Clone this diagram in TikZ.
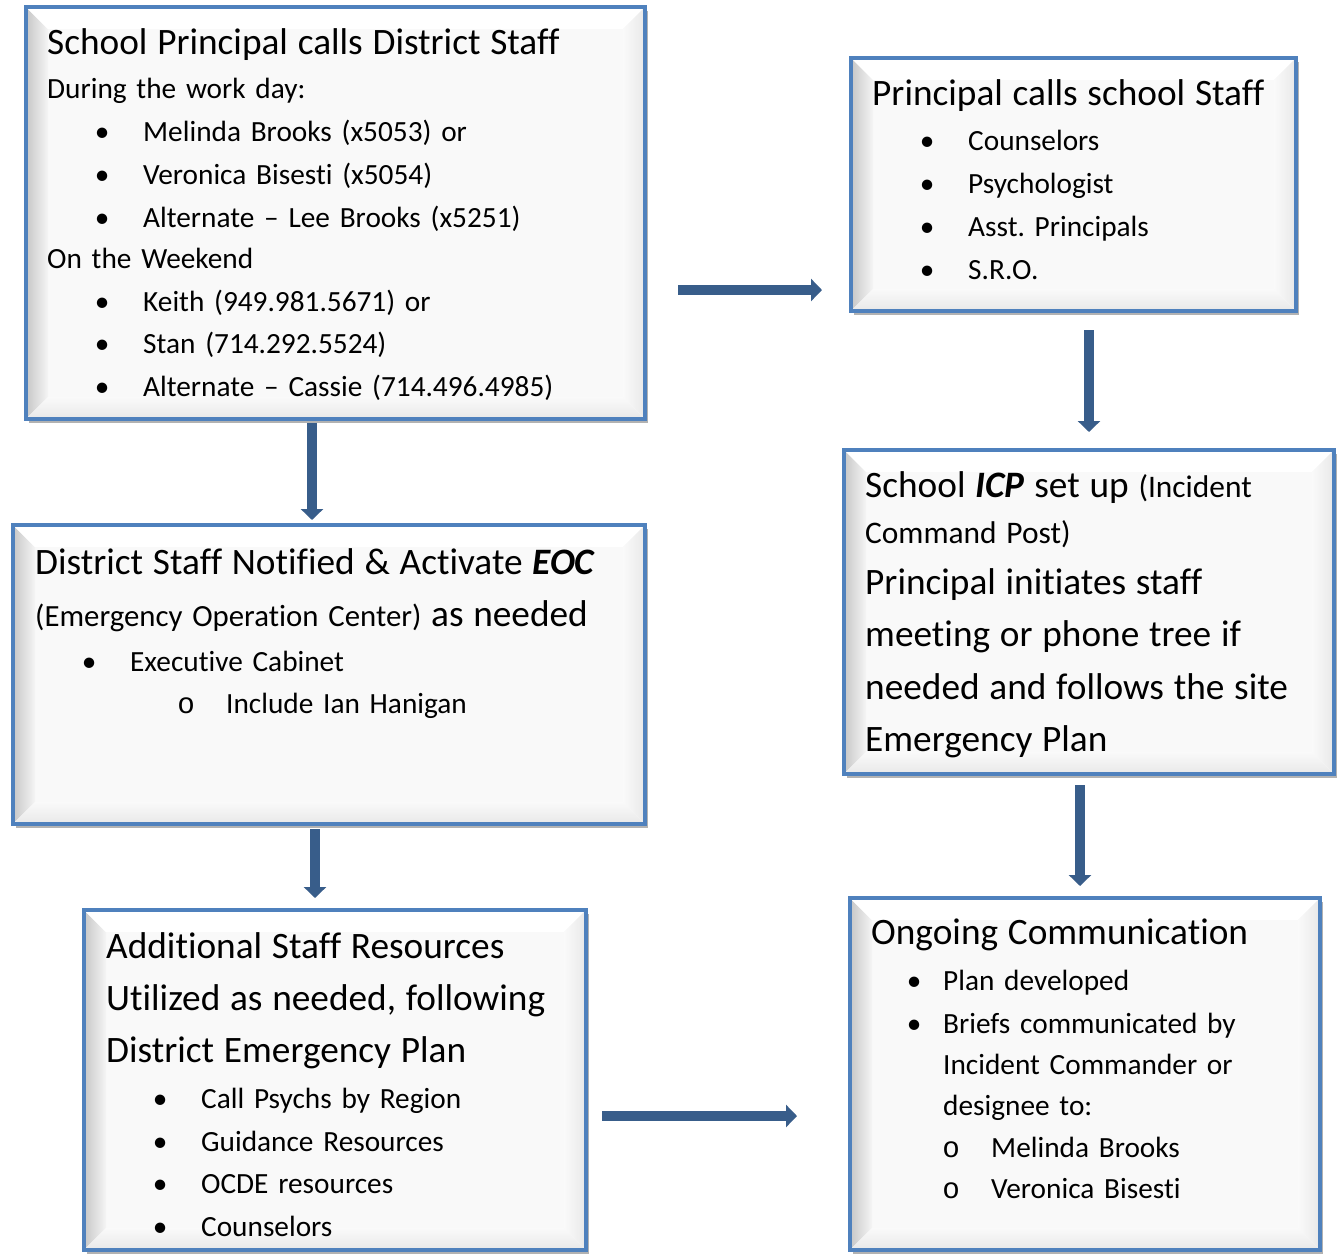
\documentclass[tikz,border=0pt]{standalone}
\usepackage{fontspec}
\setmainfont[Ligatures={NoCommon},WordSpace={0.8}]{Carlito}
\newfontfamily\monof{Liberation Mono}
\usetikzlibrary{arrows.meta,calc,shadows}
\definecolor{FlowBlue}{HTML}{4F81BD}
\definecolor{FlowArrow}{HTML}{385D8A}
\definecolor{FlowFill}{HTML}{F9F9F9}
\frenchspacing

% font sizes and line helpers
\newcommand{\bigf}{\fontsize{37.3}{52}\selectfont}
\newcommand{\smf}{\fontsize{29.3}{43}\selectfont}
\newcommand{\row}[2]{\leavevmode#2\baselineskip=#1pt\relax\par}
\newcommand{\bit}[3]{\makebox[#2pt][l]{\hspace*{#1pt}\makebox[0pt]{\textbullet}}#3}
\newcommand{\cit}[3]{\makebox[#2pt][l]{\hspace*{#1pt}\makebox[0pt]{\monof o}}#3}
\newcommand{\fst}{\rule{0pt}{32pt}}

\tikzset{
  bevel/.style={path picture={
    \path (path picture bounding box.north west) coordinate (q1)
          (path picture bounding box.north east) coordinate (q2)
          (path picture bounding box.south east) coordinate (q3)
          (path picture bounding box.south west) coordinate (q4);
    \fill[left color=black!22,right color=black!4]
      (q1) -- ($(q1)+(22pt,-22pt)$) -- ($(q4)+(22pt,22pt)$) -- (q4) -- cycle;
    \fill[white]
      (q1) -- (q2) -- ($(q2)+(-22pt,-22pt)$) -- ($(q1)+(22pt,-22pt)$) -- cycle;
    \fill[bottom color=black!9,top color=black!2]
      (q4) -- ($(q4)+(22pt,22pt)$) -- ($(q3)+(-22pt,22pt)$) -- (q3) -- cycle;
    \fill[left color=black!2,right color=black!9]
      (q2) -- (q3) -- ($(q3)+(-22pt,22pt)$) -- ($(q2)+(-22pt,-22pt)$) -- cycle;
  }}
}

\begin{document}
\begin{tikzpicture}[
    x=1pt,y=-1pt,
    panel/.style={draw=FlowBlue,line width=3.5pt,fill=FlowFill,inner sep=0pt,outer sep=0pt,
      anchor=north west,bevel,
      drop shadow={shadow xshift=3pt,shadow yshift=-4pt,opacity=.3,fill=black}},
    txt/.style={anchor=north west,inner sep=0pt,text width=640pt,align=left,font=\smf},
    flow/.style={draw=FlowArrow,line width=10pt,-{Triangle[width=22pt,length=11pt]}}
  ]
  \useasboundingbox (0,0) rectangle (1341,1253);

  % boxes
  \node[panel,minimum width=619pt,minimum height=412pt] (call) at (26,7) {};
  \node[panel,minimum width=445pt,minimum height=253pt] (staff) at (851,58) {};
  \node[panel,minimum width=632pt,minimum height=299pt] (eoc) at (13,525) {};
  \node[panel,minimum width=490pt,minimum height=324pt] (icp) at (844,450) {};
  \node[panel,minimum width=502pt,minimum height=340pt] (extra) at (84,910) {};
  \node[panel,minimum width=470pt,minimum height=352pt] (comm) at (850,898) {};

  % box texts
  \node[txt] (callT) at (47,22) {%
    \row{0}{\fst{\bigf School Principal calls District Staff}}
    \row{44}{During the work day:}
    \row{43}{\bit{55}{96}{Melinda Brooks (x5053) or}}
    \row{43}{\bit{55}{96}{Veronica Bisesti (x5054)}}
    \row{43}{\bit{55}{96}{Alternate -- Lee Brooks (x5251)}}
    \row{41}{On the Weekend}
    \row{43}{\bit{55}{96}{Keith (949.981.5671) or}}
    \row{42}{\bit{55}{96}{Stan (714.292.5524)}}
    \row{43}{\bit{55}{96}{Alternate -- Cassie (714.496.4985)}}};
  \node[txt] (staffT) at (872,73) {%
    \row{0}{\fst{\bigf Principal calls school Staff}}
    \row{45}{\bit{55}{96}{Counselors}}
    \row{43}{\bit{55}{96}{Psychologist}}
    \row{43}{\bit{55}{96}{Asst. Principals}}
    \row{43}{\bit{55}{96}{S.R.O.}}};
  \node[txt] (eocT) at (35,542) {%
    \row{0}{\fst{\bigf District Staff Notified \& Activate \textbf{\textit{EOC}}}}
    \row{52}{{\fontsize{30.8}{43}\selectfont(Emergency Operation Center)} {\bigf as needed}}
    \row{45}{\bit{54}{95}{Executive Cabinet}}
    \row{42}{\cit{151}{191}{Include Ian Hanigan}}};
  \node[txt] (icpT) at (865,465) {%
    \row{0}{\fst{\bigf School \textbf{\textit{ICP}} set up }{\fontsize{31.4}{43}\selectfont(Incident}}
    \row{46}{{\fontsize{31.4}{43}\selectfont Command Post)}}
    \row{51}{{\bigf Principal initiates staff}}
    \row{52}{{\bigf meeting or phone tree if}}
    \row{53}{{\bigf needed and follows the site}}
    \row{52}{{\bigf Emergency Plan}}};
  \node[txt] (extraT) at (106,926) {%
    \row{0}{\fst{\bigf Additional Staff Resources}}
    \row{52}{{\bigf Utilized as needed, following}}
    \row{52}{{\bigf District Emergency Plan}}
    \row{46}{\bit{54}{95}{Call Psychs by Region}}
    \row{43}{\bit{54}{95}{Guidance Resources}}
    \row{42}{\bit{54}{95}{OCDE resources}}
    \row{43}{\bit{54}{95}{Counselors}}};
  \node[txt] (commT) at (871,912) {%
    \row{0}{\fst{\bigf Ongoing Communication}}
    \row{46}{\bit{43}{72}{Plan developed}}
    \row{43}{\bit{43}{72}{Briefs communicated by}}
    \row{41}{\hspace*{72pt}Incident Commander or}
    \row{41}{\hspace*{72pt}designee to:}
    \row{42}{\cit{80}{120}{Melinda Brooks}}
    \row{41}{\cit{80}{120}{Veronica Bisesti}}};

  % arrow ends
  \coordinate (a1s) at (678,290);  \coordinate (a1e) at (822,290);
  \coordinate (a2s) at (1089,330); \coordinate (a2e) at (1089,432);
  \coordinate (a3s) at (312,423);  \coordinate (a3e) at (312,520);
  \coordinate (a4s) at (1080,785); \coordinate (a4e) at (1080,886);
  \coordinate (a5s) at (315,829);  \coordinate (a5e) at (315,898);
  \coordinate (a6s) at (602,1116); \coordinate (a6e) at (797,1116);

  \draw[flow] (a1s) -- (a1e);
  \draw[flow] (a2s) -- (a2e);
  \draw[flow] (a3s) -- (a3e);
  \draw[flow] (a4s) -- (a4e);
  \draw[flow] (a5s) -- (a5e);
  \draw[flow] (a6s) -- (a6e);
\end{tikzpicture}
\end{document}
